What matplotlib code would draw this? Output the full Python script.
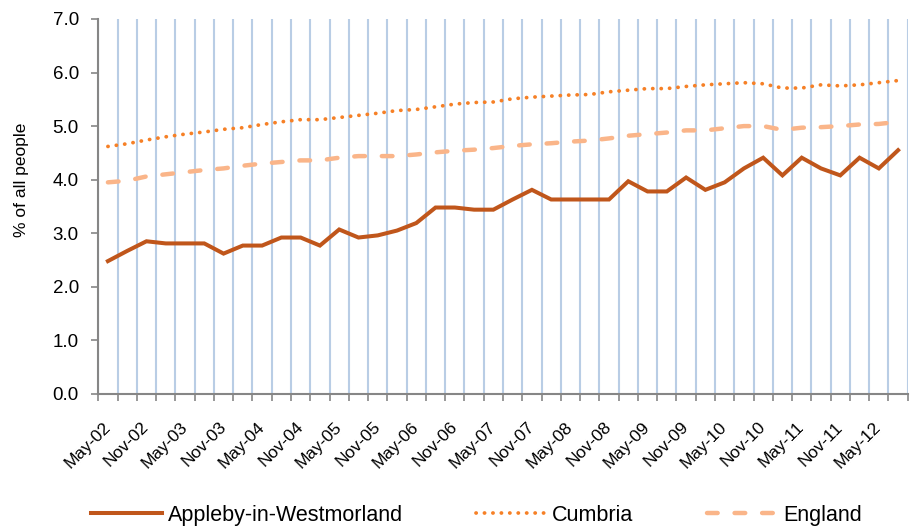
"""Claimant rate chart: Appleby-in-Westmorland vs Cumbria vs England, quarterly."""

import matplotlib
matplotlib.use("Agg")
import matplotlib.pyplot as plt
import numpy as np

plt.rcParams["font.family"] = ["Liberation Sans", "DejaVu Sans"]

tick_labels = ["May-02", "Nov-02", "May-03", "Nov-03", "May-04", "Nov-04", "May-05",
               "Nov-05", "May-06", "Nov-06", "May-07", "Nov-07", "May-08", "Nov-08",
               "May-09", "Nov-09", "May-10", "Nov-10", "May-11", "Nov-11", "May-12"]

appleby = [2.48, 2.67, 2.85, 2.81, 2.81, 2.81, 2.62, 2.77, 2.77, 2.92, 2.92, 2.77,
           3.07, 2.92, 2.96, 3.05, 3.19, 3.48, 3.48, 3.44, 3.44, 3.63, 3.81, 3.63,
           3.63, 3.63, 3.63, 3.97, 3.78, 3.78, 4.04, 3.81, 3.95, 4.21, 4.41, 4.08,
           4.41, 4.21, 4.08, 4.41, 4.21, 4.55]
cumbria = [4.62, 4.67, 4.74, 4.80, 4.85, 4.89, 4.94, 4.97, 5.03, 5.08, 5.12, 5.12,
           5.16, 5.20, 5.24, 5.29, 5.31, 5.36, 5.41, 5.44, 5.45, 5.51, 5.54, 5.56,
           5.58, 5.59, 5.64, 5.67, 5.70, 5.70, 5.74, 5.77, 5.79, 5.81, 5.79, 5.71,
           5.71, 5.77, 5.75, 5.77, 5.81, 5.85]
england = [3.95, 3.98, 4.06, 4.10, 4.14, 4.18, 4.21, 4.26, 4.30, 4.33, 4.36, 4.36,
           4.41, 4.44, 4.44, 4.44, 4.47, 4.51, 4.54, 4.56, 4.59, 4.63, 4.66, 4.68,
           4.71, 4.73, 4.77, 4.82, 4.85, 4.88, 4.92, 4.92, 4.96, 5.00, 5.00, 4.93,
           4.97, 4.98, 5.00, 5.03, 5.04, 5.08]

n = len(appleby)
x = np.arange(n)
axis_grey = "#868686"

fig = plt.figure(figsize=(9.1, 5.26), dpi=100)
ax = fig.add_axes([0.108, 0.251, 0.8895, 0.713])

ax.plot(x, appleby, color="#C0561B", lw=2.9, solid_joinstyle="miter",
        label="Appleby-in-Westmorland", zorder=3)
ax.plot(x, cumbria, color="#F68026", lw=2.7, linestyle=(0, (0.05, 2.2)),
        dash_capstyle="round", label="Cumbria", zorder=3)
ax.plot(x, england, color="#FAB589", lw=3.2, linestyle=(0, (2.4, 3.8)),
        dash_capstyle="round", label="England", zorder=3)

ax.set_xlim(-0.5, n - 0.5)
ax.set_ylim(0, 7)
ax.set_yticks(np.arange(0, 7.5, 1.0))
ax.set_yticklabels([f"{v:.1f}" for v in np.arange(0, 7.5, 1.0)], fontsize=13.5)

# category boundaries: ticks and vertical grid
ax.set_xticks(np.arange(-0.5, n, 1.0), minor=True)
ax.set_xticks(x[::2][:len(tick_labels)])
ax.set_xticklabels(tick_labels, rotation=45, ha="right", va="center",
                   rotation_mode="anchor", fontsize=12.5)
ax.tick_params(axis="x", which="major", length=0, pad=22)
ax.tick_params(axis="x", which="minor", length=5, width=1.2, color=axis_grey)
ax.tick_params(axis="y", length=5, width=1.2, color=axis_grey, pad=9)
ax.grid(which="minor", axis="x", color="#B9CDE5", lw=1.5, zorder=0)

for side in ["top", "right"]:
    ax.spines[side].set_visible(False)
for side in ["left", "bottom"]:
    ax.spines[side].set_color(axis_grey)
    ax.spines[side].set_linewidth(1.5)

ax.set_ylabel("% of all people", fontsize=12.5)
ax.yaxis.set_label_coords(-0.086, 0.571)

fig.legend(loc="center", bbox_to_anchor=(0.5236, 0.020), ncol=3, frameon=False,
           fontsize=15.5, handlelength=3.3, handletextpad=0.25, columnspacing=3.4,
           borderpad=0)

fig.savefig("out.png", dpi=100)
